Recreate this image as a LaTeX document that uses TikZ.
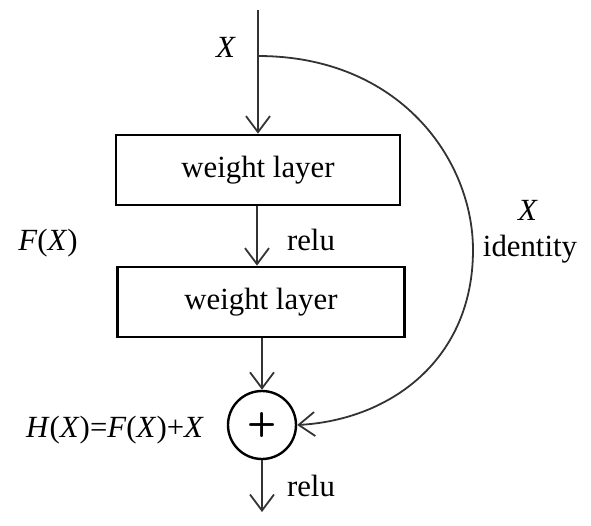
\documentclass[tikz,border=0pt]{standalone}
\usepackage{fontspec}
\setmainfont{Liberation Serif}
\usepackage{tikz}
\usetikzlibrary{arrows.meta,positioning}

\begin{document}
\begin{tikzpicture}[x=0.5pt,y=-0.5pt,
    font=\fontsize{15.4}{18}\selectfont,
    layerbox/.style={draw,line width=1.4pt,minimum height=35pt,inner sep=0pt},
    flow/.style={line width=0.9pt,draw=black!80,-{Straight Barb[length=8pt,width=12pt,line width=0.9pt]}}]
        \useasboundingbox (0,0) rectangle (591,526);
        \coordinate (in) at (258,10);
        \coordinate (split) at (258,56);
        \node[layerbox,minimum width=142pt] (wl1) at (258,170) {weight layer};
        \node[layerbox,minimum width=143.5pt] (wl2) at (261,302) {weight layer};
        \node[draw,circle,line width=1.2pt,minimum size=34pt,inner sep=0pt] (plus) at (262,425) {\fontsize{17}{17}\selectfont\sffamily\bfseries +};
        \coordinate (out) at (262,512);
        \draw[flow] (in) -- (in|-wl1.north);
        \draw[flow] (wl1.south-|257,0) -- (wl2.north-|257,0);
        \draw[flow] (wl2.south-|262,0) -- (plus.north);
        \draw[flow] (plus.south) -- (out);
        \draw[flow] (split) .. controls (400,56) and (473,160) .. (473,250)
                    .. controls (473,360) and (390,420) .. (plus.east);
        \node at (226,47) {\textit{X}};
        \node[anchor=west] at (280,240) {relu};
        \node[anchor=west] at (280,486) {relu};
        \node at (48,243) {\textit{F}(\textit{X})};
        \node at (115,430) {\textit{H}(\textit{X})=\textit{F}(\textit{X})+\textit{X}};
        \node at (528,210) {\textit{X}};
        \node at (530,249) {identity};
      \end{tikzpicture}
\end{document}
